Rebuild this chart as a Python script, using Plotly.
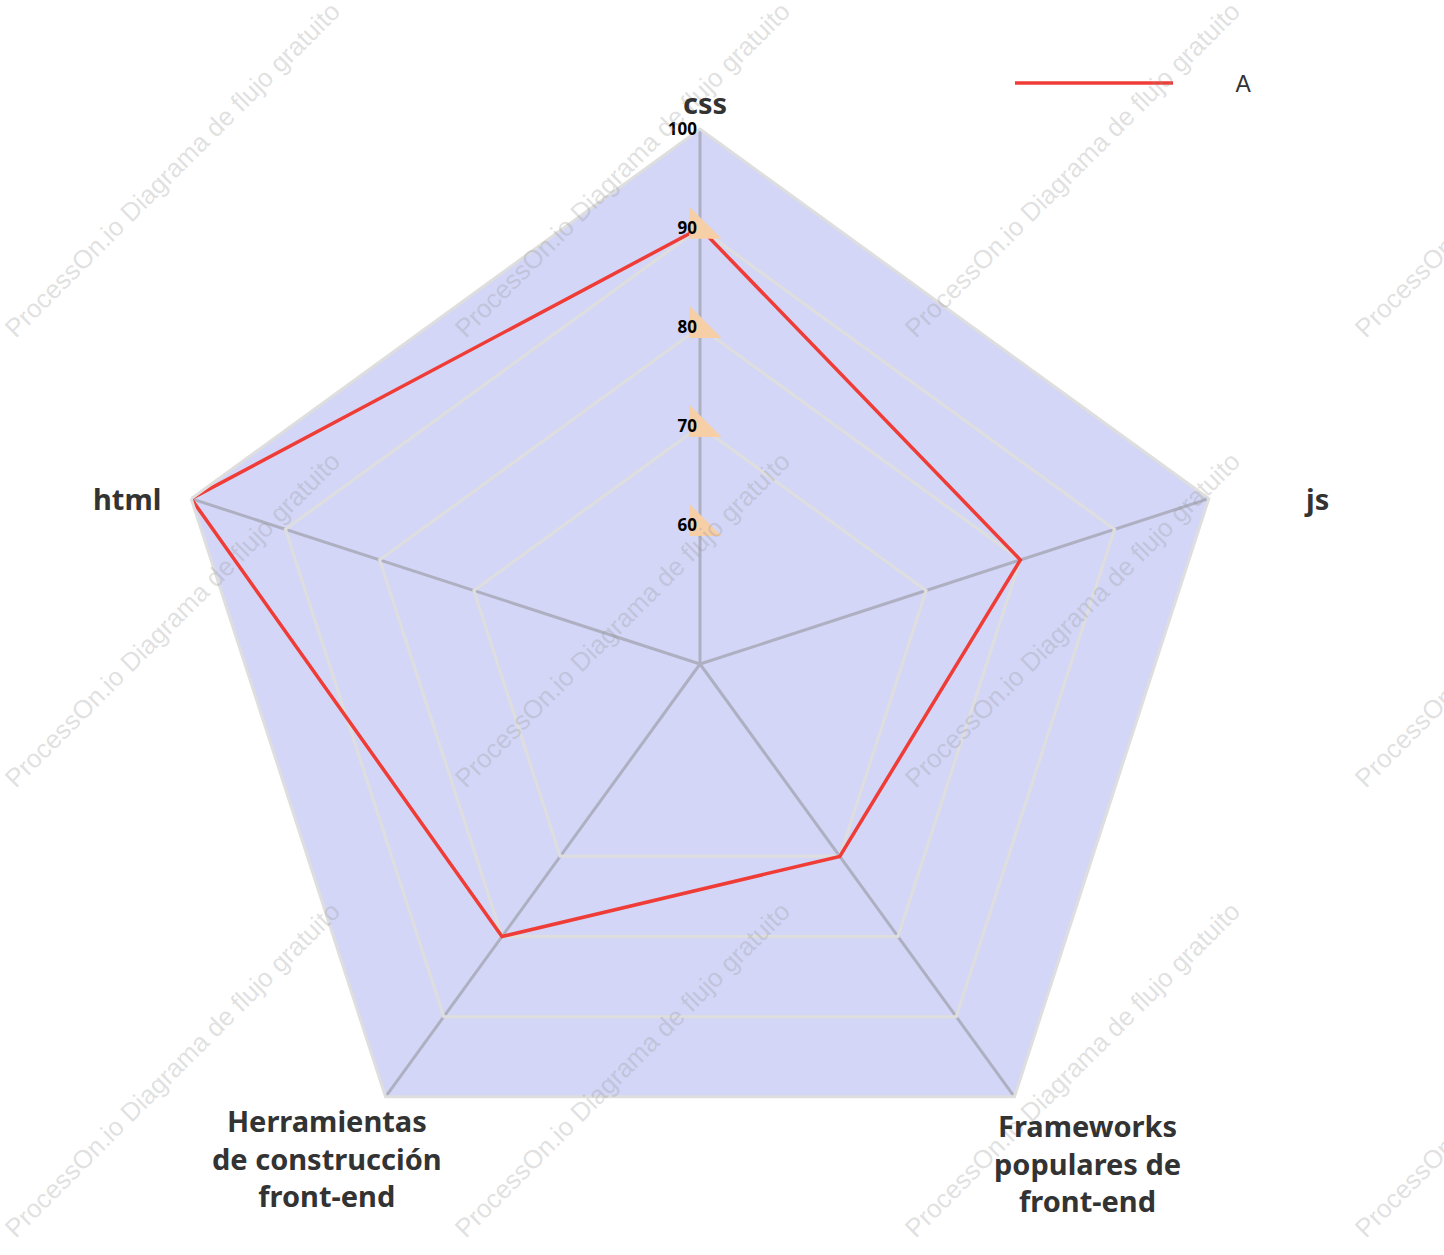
import plotly.graph_objects as go

# ---- data ----
categories = ["css", "js", "Frameworks<br>populares de<br>front-end",
              "Herramientas<br>de construcción<br>front-end", "html"]
values_a = [90, 80, 70, 80, 100]
series_name = "A"
radial_ticks = [60, 70, 80, 90, 100]
ring_levels = [70, 80, 90]
radial_min = 46

watermark_text = "ProcessOn.io Diagrama de flujo gratuito"
wm_cols = [0, 450, 900, 1350]
wm_rows = [0, 450, 900]

# ---- layout helpers (pixel positions of the category labels) ----
label_px = [(705, 103), (1316, 498), (1087, 1163), (327, 1158), (127, 498)]

W, H = 1444, 1255

theta_closed = categories + [categories[0]]

fig = go.Figure()

# grid rings
for lvl in ring_levels:
    fig.add_trace(go.Scatterpolar(
        r=[lvl] * len(theta_closed), theta=theta_closed, mode="lines",
        line=dict(color="#dedede", width=3), hoverinfo="skip", showlegend=False))

# series
fig.add_trace(go.Scatterpolar(
    r=values_a + [values_a[0]], theta=theta_closed, mode="lines",
    name="\u00a0" * 9 + series_name,
    line=dict(color="#f03c36", width=3.5), showlegend=True))

# tick markers on the css axis
fig.add_trace(go.Scatterpolar(
    r=radial_ticks[:-1], theta=[categories[0]] * (len(radial_ticks) - 1),
    mode="markers", marker=dict(symbol="triangle-sw", size=36, color="#f7cfa6"),
    hoverinfo="skip", showlegend=False))

annotations = []
# watermark
for ty in wm_rows:
    for tx in wm_cols:
        cx, cy = tx + 172, ty + 170
        annotations.append(dict(
            text=watermark_text, xref="paper", yref="paper",
            x=cx / W, y=1 - cy / H, xanchor="center", yanchor="middle",
            showarrow=False, textangle=-45,
            font=dict(family="Liberation Sans, Arial", size=26, color="rgba(150,150,150,0.3)")))

# category labels
for cat, (px, py) in zip(categories, label_px):
    annotations.append(dict(
        text=cat, xref="paper", yref="paper", x=px / W, y=1 - py / H,
        xanchor="center", yanchor="middle", showarrow=False, align="center",
        font=dict(family="Noto Sans, Open Sans, sans-serif", size=29,
                  color="#333333", weight="bold")))

R = 535
cx0, cy0 = 700, 664
fig.update_layout(
    width=W, height=H,
    margin=dict(l=0, r=0, t=0, b=0),
    paper_bgcolor="white",
    font=dict(family="Noto Sans, Open Sans, sans-serif", color="#333333"),
    polar=dict(
        domain=dict(x=[(cx0 - R) / W, (cx0 + R) / W],
                    y=[1 - (cy0 + R) / H, 1 - (cy0 - R) / H]),
        gridshape="linear",
        bgcolor="#d3d6f6",
        angularaxis=dict(
            rotation=90, direction="clockwise",
            showline=True, linecolor="#dedede", linewidth=3,
            showgrid=True, gridcolor="#aeb0c2", gridwidth=3,
            ticks="", showticklabels=False,
        ),
        radialaxis=dict(
            range=[radial_min, 100], angle=90, side="counterclockwise",
            tickmode="array", tickvals=radial_ticks, ticktext=[str(v) for v in radial_ticks],
            showgrid=False, showline=False, ticks="", tickangle=90,
            tickfont=dict(size=17, color="#000000", weight="bold"),
        ),
    ),
    legend=dict(x=1010 / W, y=1 - 83 / H, xanchor="left", yanchor="middle",
                itemwidth=158, font=dict(family="Liberation Sans, Arial", size=23, color="#333333"),
                bgcolor="rgba(0,0,0,0)"),
    annotations=annotations,
)

fig.write_html("out.html")
